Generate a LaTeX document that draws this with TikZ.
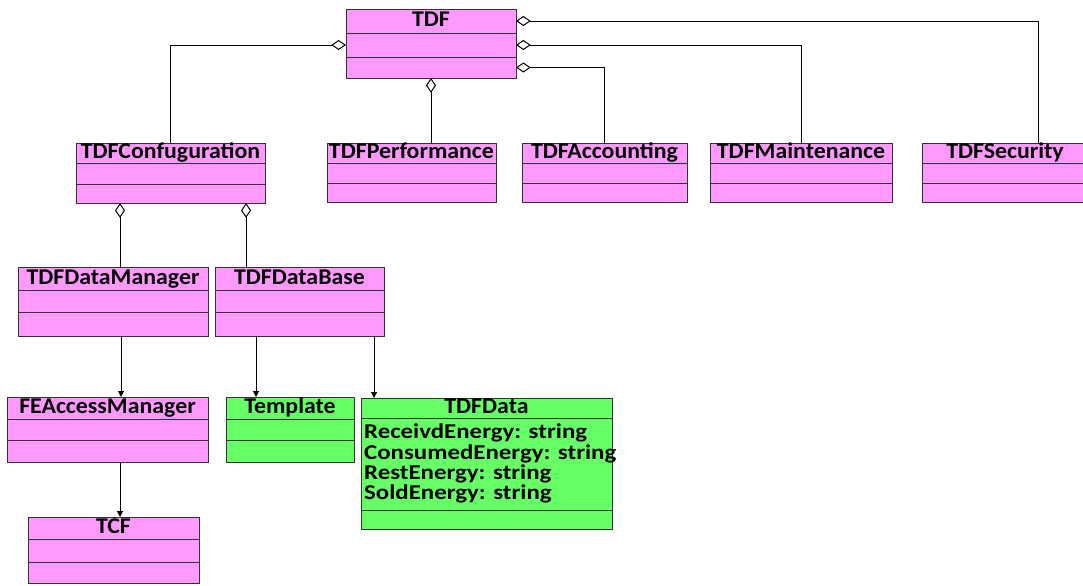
\documentclass[tikz,border=0pt]{standalone}
\usepackage{fontspec}
\newfontfamily\classfont{Carlito}[FakeStretch=1.06]
\newfontfamily\attrfont{Carlito}[FakeStretch=1.18]
\usetikzlibrary{arrows.meta,calc}

\definecolor{classpink}{RGB}{255,153,255}
\definecolor{classgreen}{RGB}{102,255,102}

% one class box: name, x, y, width, three part heights, fill, title
\newcommand{\umlclass}[9]{
  \node[part, title, fill=#8, anchor=north west, minimum width=#4*0.025cm, minimum height=#5*0.025cm] (#1) at (#2,#3) {#9};
  \node[part, fill=#8, minimum width=#4*0.025cm, minimum height=#6*0.025cm] (#1-attr) at (#1.south) {};
  \node[part, fill=#8, minimum width=#4*0.025cm, minimum height=#7*0.025cm] (#1-ops) at (#1-attr.south) {};
}

\begin{document}
\begin{tikzpicture}[x=0.025cm,y=-0.025cm]
      \tikzstyle{part}=[draw=black!80, line width=0.7pt, inner sep=0pt, outer sep=0pt, anchor=north]
      \tikzstyle{title}=[font=\classfont\bfseries\fontsize{16}{16}\selectfont, text height=11pt, text depth=2.5pt]
      \tikzstyle{fields}=[font=\attrfont\bfseries\fontsize{15}{14.5}\selectfont, align=left, inner xsep=2pt, inner ysep=4pt]
      \tikzstyle{aggr}=[draw, line width=0.7pt, -{Diamond[open,fill=white,length=3.7mm,width=2.5mm]}]
      \tikzstyle{assoc}=[draw, line width=0.7pt, -{Triangle[length=1.5mm,width=1.5mm]}]
      \useasboundingbox (0,0) rectangle (1083,585);

      % top level and its parts
      \umlclass{tdf}{346}{9}{170}{24}{24}{21}{classpink}{TDF}
      \umlclass{conf}{76}{143}{189}{20}{21}{19}{classpink}{TDFConfuguration}
      \umlclass{perf}{327}{143}{169}{20}{20}{19}{classpink}{TDFPerformance}
      \umlclass{acct}{522}{143}{165}{20}{20}{19}{classpink}{TDFAccounting}
      \umlclass{maint}{710}{143}{182}{20}{20}{19}{classpink}{TDFMaintenance}
      \umlclass{sec}{922}{143}{166}{20}{20}{19}{classpink}{TDFSecurity}

      % configuration branch
      \umlclass{dm}{18}{267}{190}{23}{22}{24}{classpink}{TDFDataManager}
      \umlclass{db}{215}{267}{169}{23}{22}{24}{classpink}{TDFDataBase}
      \umlclass{fea}{7}{397}{201}{22}{21}{22}{classpink}{FEAccessManager}
      \umlclass{tmpl}{226}{397}{128}{22}{21}{22}{classgreen}{Template}
      \umlclass{data}{361}{398}{251}{20}{92}{19}{classgreen}{TDFData}
      \umlclass{tcf}{28}{517}{171}{22}{23}{21}{classpink}{TCF}
      \node[fields, anchor=north west] (data-fields) at (data-attr.north west)
        {ReceivdEnergy: string\\ConsumedEnergy: string\\RestEnergy: string\\SoldEnergy: string};

      % connection points off centre
      \coordinate (sec-in) at ([xshift=2.9cm]sec.north west);
      \coordinate (conf-l) at ([xshift=1.1cm]conf-ops.south west);
      \coordinate (conf-r) at ([xshift=4.25cm]conf-ops.south west);
      \coordinate (dm-out) at ([xshift=2.575cm]dm-ops.south west);
      \coordinate (db-l) at ([xshift=1.025cm]db-ops.south west);
      \coordinate (db-r) at ([xshift=3.975cm]db-ops.south west);
      \coordinate (fea-out) at ([xshift=2.825cm]fea-ops.south west);

      % aggregations
      \draw[aggr] (conf.north) |- (tdf-attr.west);
      \draw[aggr] (tdf-ops.south |- perf.north) -- (tdf-ops.south);
      \draw[aggr] (acct.north) |- (tdf-ops.east);
      \draw[aggr] (maint.north) |- (tdf-attr.east);
      \draw[aggr] (sec-in) |- (tdf.east);
      \draw[aggr] (conf-l |- dm.north) -- (conf-l);
      \draw[aggr] (conf-r |- db.north) -- (conf-r);

      % associations
      \draw[assoc] (dm-out) -- (dm-out |- fea.north);
      \draw[assoc] (db-l) -- (db-l |- tmpl.north);
      \draw[assoc] (db-r) -- (db-r |- data.north);
      \draw[assoc] (fea-out) -- (fea-out |- tcf.north);
\end{tikzpicture}
\end{document}
